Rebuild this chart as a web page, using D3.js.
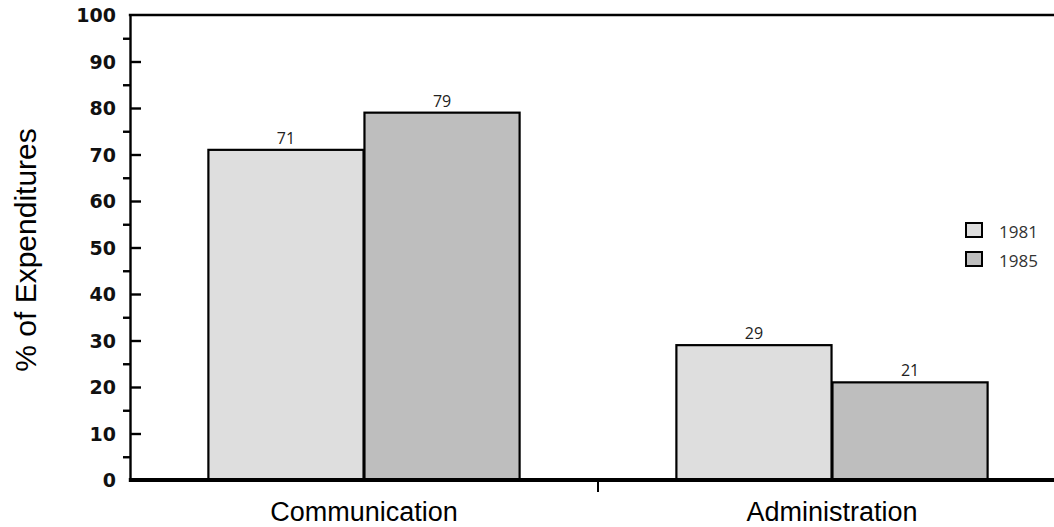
<!DOCTYPE html>
<html>
<head>
<meta charset="utf-8">
<script src="https://cdn.jsdelivr.net/npm/d3@7"></script>
<style>
  html, body { margin: 0; padding: 0; background: #fff; }
  svg { display: block; }
</style>
</head>
<body>
<svg id="chart" width="1054" height="527"></svg>
<script>
// Share of expenditures by function, 1981 vs 1985
const categories = ["Communication", "Administration"];
const years = ["1981", "1985"];
const values1981 = [71, 29];
const values1985 = [79, 21];
const yMajorTicks = [0, 10, 20, 30, 40, 50, 60, 70, 80, 90, 100];
const yMinorTicks = [5, 15, 25, 35, 45, 55, 65, 75, 85, 95];
const yTitle = "% of Expenditures";

const colors = { "1981": "#dedede", "1985": "#bebebe" };

const svg = d3.select("#chart");
const W = 1054, H = 527;
const plotLeft = 130, plotTop = 15, plotBottom = 480, plotRight = 1066;

const y = d3.scaleLinear().domain([0, 100]).range([plotBottom, plotTop]);
const x0 = d3.scaleBand().domain(categories).range([plotLeft, plotRight]).paddingInner(0).paddingOuter(0);
const groupWidth = x0.bandwidth() * 0.665;
const x1 = d3.scaleBand().domain(years).range([0, groupWidth]).paddingInner(0.006);

const rows = categories.map((c, i) => ({
  category: c,
  bars: [
    { year: "1981", value: values1981[i] },
    { year: "1985", value: values1985[i] }
  ]
}));

// Bars
const groups = svg.append("g").selectAll("g")
  .data(rows).join("g")
  .attr("transform", d => `translate(${x0(d.category) + (x0.bandwidth() - groupWidth) / 2},0)`);

groups.selectAll("rect")
  .data(d => d.bars).join("rect")
  .attr("x", d => x1(d.year))
  .attr("y", d => y(d.value))
  .attr("width", x1.bandwidth())
  .attr("height", d => y(0) - y(d.value))
  .attr("fill", d => colors[d.year])
  .attr("stroke", "#000")
  .attr("stroke-width", 2.2);

// Value labels
groups.selectAll("text.val")
  .data(d => d.bars).join("text")
  .attr("class", "val")
  .attr("x", d => x1(d.year) + x1.bandwidth() / 2)
  .attr("y", d => y(d.value) - 6)
  .attr("text-anchor", "middle")
  .attr("font-family", "'Open Sans', sans-serif")
  .attr("font-size", 16)
  .attr("fill", "#222")
  .text(d => d.value);

// Y axis: major ticks point inward, labelled
const yAxis = d3.axisLeft(y)
  .tickValues(yMajorTicks)
  .tickSizeInner(-11)
  .tickSizeOuter(0)
  .tickPadding(25)
  .tickFormat(d3.format("d"));

const gy = svg.append("g")
  .attr("transform", `translate(${plotLeft},0)`)
  .call(yAxis);
gy.select(".domain").attr("stroke", "#000").attr("stroke-width", 2.4);
gy.selectAll(".tick line")
  .attr("stroke", "#000").attr("stroke-width", 2.4)
  .filter(d => d === 0 || d === 100).remove();
gy.selectAll(".tick text")
  .attr("font-family", "'DejaVu Sans', sans-serif")
  .attr("font-weight", "bold")
  .attr("font-size", 19)
  .attr("fill", "#111")
  .attr("x", -14)
  .attr("dy", "0.36em");

// Minor ticks point outward
const yMinor = d3.axisLeft(y).tickValues(yMinorTicks).tickSizeInner(7).tickSizeOuter(0).tickFormat("");
const gyMinor = svg.append("g").attr("transform", `translate(${plotLeft},0)`).call(yMinor);
gyMinor.select(".domain").remove();
gyMinor.selectAll(".tick line").attr("stroke", "#000").attr("stroke-width", 2.4);

// Top frame line
svg.append("line")
  .attr("x1", plotLeft - 1.2).attr("x2", W)
  .attr("y1", y(100)).attr("y2", y(100))
  .attr("stroke", "#000").attr("stroke-width", 2.4);

// X axis baseline with divider tick between categories
const xAxis = d3.axisBottom(x0).tickSize(0).tickPadding(22);
const gx = svg.append("g").attr("transform", `translate(0,${plotBottom})`).call(xAxis);
gx.select(".domain").remove();
gx.selectAll(".tick text")
  .attr("font-family", "'Liberation Sans', Arial, sans-serif")
  .attr("font-size", 27)
  .attr("fill", "#000");

svg.append("line")
  .attr("x1", plotLeft - 1.2).attr("x2", W)
  .attr("y1", plotBottom).attr("y2", plotBottom)
  .attr("stroke", "#000").attr("stroke-width", 4);

svg.append("line")
  .attr("x1", x0(categories[1])).attr("x2", x0(categories[1]))
  .attr("y1", plotBottom).attr("y2", plotBottom + 12)
  .attr("stroke", "#000").attr("stroke-width", 2);

// Y axis title
svg.append("text")
  .attr("transform", `translate(36,250) rotate(-90)`)
  .attr("text-anchor", "middle")
  .attr("font-family", "'Liberation Sans', Arial, sans-serif")
  .attr("font-size", 30)
  .attr("fill", "#000")
  .text(yTitle);

// Legend
const legend = svg.append("g").attr("transform", "translate(966,223)");
const li = legend.selectAll("g").data(years).join("g")
  .attr("transform", (d, i) => `translate(0,${i * 29})`);
li.append("rect")
  .attr("width", 16).attr("height", 14)
  .attr("fill", d => colors[d])
  .attr("stroke", "#000").attr("stroke-width", 2);
li.append("text")
  .attr("x", 33).attr("y", 15)
  .attr("font-family", "'Open Sans', sans-serif")
  .attr("font-size", 17)
  .attr("fill", "#333")
  .text(d => d);
</script>
</body>
</html>
